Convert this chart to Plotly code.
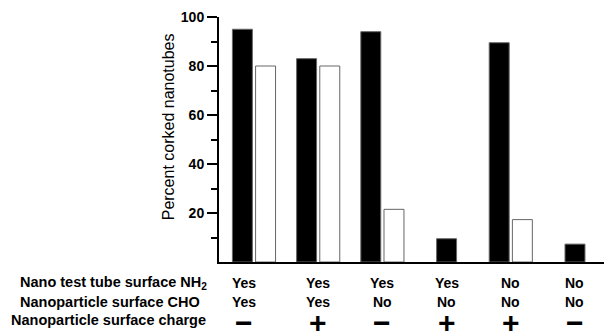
import plotly.graph_objects as go

# ---- data ----
groups = ["G1", "G2", "G3", "G4", "G5", "G6"]
black_values = [95, 83, 94, 9.5, 89.5, 7.3]
white_values = [80, 80, 21.5, None, 17.3, None]
nh2_row = ["Yes", "Yes", "Yes", "Yes", "No", "No"]
cho_row = ["Yes", "Yes", "No", "No", "No", "No"]
charge_row = ["\u2212", "+", "\u2212", "+", "+", "\u2212"]
row_labels = ["Nano test tube surface NH<sub>2</sub>", "Nanoparticle surface CHO", "Nanoparticle surface charge"]
y_ticks = [20, 40, 60, 80, 100]
y_minor = [10, 30, 50, 70, 90]

FONT = "Liberation Sans, Arial, Helvetica, sans-serif"
W = 0.311   # bar width (category units)
GAP = 0.05  # gap between paired bars

pos = list(range(len(groups)))
black_off = [-(W + GAP / 2) if wv is not None else -W / 2 for wv in white_values]
white_off = [GAP / 2 for _ in white_values]

fig = go.Figure()
fig.add_trace(go.Bar(x=pos, y=black_values, width=W, offset=black_off,
                     marker=dict(color="black", line=dict(color="#666", width=1)),
                     showlegend=False))
fig.add_trace(go.Bar(x=pos, y=white_values, width=W, offset=white_off,
                     marker=dict(color="white", line=dict(color="#666", width=1)),
                     showlegend=False))

fig.update_layout(
    width=604, height=331,
    margin=dict(l=219, r=0, t=17, b=69),
    plot_bgcolor="white", paper_bgcolor="white",
    barmode="overlay",
    font=dict(family=FONT, color="black"),
    xaxis=dict(range=[-0.545, 5.452], showticklabels=False, ticks="",
               showline=True, linecolor="black", linewidth=2,
               showgrid=False, zeroline=False, fixedrange=True),
    yaxis=dict(range=[0, 100], tickvals=y_ticks, ticktext=[str(v) for v in y_ticks],
               ticks="outside", ticklen=10, tickwidth=2, tickcolor="black",
               showline=True, linecolor="black", linewidth=2,
               showgrid=False, zeroline=False, automargin=False,
               tickfont=dict(family=FONT, size=14, color="black", weight="bold"),
               minor=dict(tickvals=y_minor, ticks="outside", ticklen=6, tickwidth=2, tickcolor="black")),
)

PH = 245.5
def py(px):
    return (262.5 - px) / PH

def pxx(px):
    return (px - 219) / 385

# y title
fig.add_annotation(text="Percent corked nanotubes", xref="paper", yref="paper",
                    x=pxx(168), y=py(127.5), xanchor="center", yanchor="middle",
                    textangle=-90, showarrow=False,
                    font=dict(family=FONT, size=16, color="black"))

row_y = [283.3, 302.7, 321.0]
row_right = [209, 202, 208]
for lab, yy, xr in zip(row_labels, row_y, row_right):
    fig.add_annotation(text=lab, xref="paper", yref="paper", x=pxx(xr), y=py(yy),
                        xanchor="right", yanchor="middle", showarrow=False,
                        font=dict(family=FONT, size=14.5, color="black", weight="bold"))

for i in pos:
    xs = -10 if i == 0 else 0
    for txt, yy, sz in [(nh2_row[i], row_y[0], 14), (cho_row[i], row_y[1], 14)]:
        fig.add_annotation(text=txt, xref="x", yref="paper", x=i, y=py(yy), xshift=xs,
                            xanchor="center", yanchor="middle", showarrow=False,
                            font=dict(family=FONT, size=sz, color="black", weight="bold"))
    fig.add_annotation(text=charge_row[i], xref="x", yref="paper", x=i, y=py(323), xshift=xs,
                        xanchor="center", yanchor="middle", showarrow=False,
                        font=dict(family=FONT, size=30, color="black", weight="bold"))

fig.write_html("out.html", config={"displayModeBar": False},
               post_script="document.body.style.margin='0';document.body.style.overflow='hidden';")
